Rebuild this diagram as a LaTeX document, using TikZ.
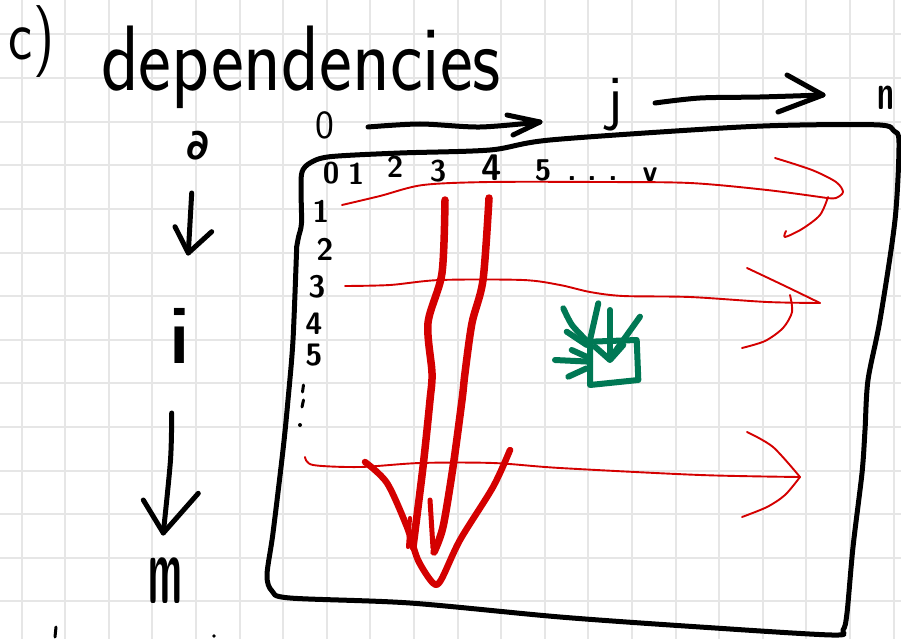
\documentclass[tikz,border=0pt]{standalone}
\usepackage{fontspec}
\newfontfamily\symfam{DejaVu Sans}
\definecolor{gridgray}{RGB}{230,230,230}
\definecolor{inkred}{RGB}{212,0,0}
\definecolor{inkgreen}{RGB}{0,120,84}
\newcommand{\hand}[1]{\sffamily\fontsize{#1}{#1}\selectfont}
\begin{document}
\begin{tikzpicture}[x=1pt,y=-1pt,
  gridline/.style={gridgray, line width=2pt},
  pen/.style={black, line width=5pt, line cap=round, line join=round},
  thinpen/.style={black, line width=3pt, line cap=round, line join=round},
  redthin/.style={inkred, line width=1.9pt, line cap=round, line join=round},
  redthick/.style={inkred, line width=7.5pt, line cap=round, line join=round},
  greenpen/.style={inkgreen, line width=6pt, line cap=round, line join=round},
  txt/.style={inner sep=0pt, outer sep=0pt, anchor=base},
  digit/.style={txt, font=\hand{30}\bfseries},
  rowdigit/.style={txt, font=\hand{31}\bfseries}]
\useasboundingbox (0,0) rectangle (901,639);
\fill[white] (0,0) rectangle (901,639);

% squared paper
\foreach \k in {0,...,20}
  \draw[gridline] ({21.5+43.6*\k},0) -- ({21.5+43.6*\k},639);
\foreach \k in {0,...,13}
  \draw[gridline] (0,{34.5+43.6*\k}) -- (901,{34.5+43.6*\k});

% heading
\node[txt, anchor=base west, font=\hand{72}] (part) at (9,60) {\scalebox{0.8}[1]{c)}};
\node[txt, anchor=base west, text depth=0pt, font=\hand{93}] (heading) at (101,91) {\scalebox{0.84}[1]{dependencies}};

% column axis: 0 -> j -> n
\node[txt, font=\hand{40}] (colzero) at (325,139) {0};
\node[txt, font=\hand{62}] (colj) at (615,119) {j};
\node[txt, font=\hand{50}\bfseries] (coln) at (886,110) {\scalebox{0.6}[1]{n}};
\draw[pen] plot[smooth] coordinates {(368,127) (420,124) (480,127) (540,122)};
\draw[pen] (507,115) -- (540,122) -- (513,135);
\draw[pen] plot[smooth] coordinates {(655,103) (700,98) (760,97) (823,95)};
\draw[pen] (787,75) -- (823,95) -- (778,112);

% row axis: 0 -> i -> m
\node[font=\symfam\bfseries\fontsize{42}{42}\selectfont, inner sep=0pt] (rowzero) at (198,146) {∂};
\node[txt, font=\hand{85}] (rowi) at (180,363) {\scalebox{1.5}[1]{i}};
\node[txt, font=\hand{78}\bfseries] (rowm) at (165,603) {\scalebox{0.5}[1.25]{m}};
\draw[pen] (191.7,193) -- (188.3,253);
\draw[pen] (175,226.7) -- (188.3,253) -- (211.7,231.7);
\draw[pen] plot[smooth] coordinates {(171.7,413) (170.5,460) (163.3,533)};
\draw[pen] (143.3,500) -- (163.3,533) -- (198.3,493.3);

% the matrix frame
\draw[pen] plot[smooth, tension=0.5] coordinates {
  (296.7,246.7) (298.5,237) (301.5,223) (301,190) (302,172) (310,163) (330,156.7)
  (400,153) (490,150) (550,140) (723,128) (800,125) (880,125) (894,131) (899,143)
  (895,220) (880,320) (868,380) (865,430) (862,473) (853,547) (847,613) (843,630)
  (832,635) (700,627) (560,617) (410,603) (290,598) (272,591) (267,575)
  (273,533) (283,450) (288,400) (293,340) (296.7,246.7)};

% column indices
\foreach \t/\x/\b [count=\n] in {0/331/183, 1/356/184, 2/395/178, 3/438/182,
  5/543/180, ./572/181, ./592/181, ./613/181, v/650/182}
  \node[digit] (col\n) at (\x,\b) {\t};
\node[txt, font=\hand{37}\bfseries] (colfour) at (492,181) {4};

% row indices
\foreach \t/\x/\b [count=\n] in {1/321/222, 2/325/260, 3/317/297, 4/314/334, 5/314/365}
  \node[rowdigit] (row\n) at (\x,\b) {\t};
\draw[thinpen] (303.5,385) -- (302.5,392);
\draw[thinpen] (303.5,400) -- (302,407);
\fill (300,425) circle (2pt);

% row-wise sweeps
\draw[redthin] plot[smooth] coordinates {(342,205) (380,196) (423,185) (490,182) (600,182) (690,183) (767,190) (827,198)};
\draw[redthin] plot[smooth] coordinates {(775,158) (812,170) (836,182) (843,192) (836,198) (827,198)};
\draw[redthin] plot[smooth] coordinates {(828,197) (820,215) (802,229) (785,237) (786,231)};

\draw[redthin] plot[smooth] coordinates {(345,286) (390,285) (440,280) (523,280) (560,285) (590,292) (623,296) (690,297) (767,302) (820,303)};
\draw[redthin] plot[smooth] coordinates {(747,268) (785,286) (820,303)};
\draw[redthin] plot[smooth] coordinates {(790,295) (792,312) (783,328) (765,341) (742,348)};

\draw[redthin] plot[smooth] coordinates {(305,457) (313,465) (360,467) (420,463) (493,463) (560,468) (700,475) (800,477)};
\draw[redthin] plot[smooth] coordinates {(747,432) (773,447) (800,477)};
\draw[redthin] plot[smooth] coordinates {(742,517) (767,507) (785,495) (800,477)};

% column-wise dependency arrow
\draw[redthick] plot[smooth] coordinates {(445,200) (442,273) (428,323) (432,373) (430,400) (423,467) (413,547)};
\draw[redthick, line width=4pt] (410,518) -- (408,547);
\draw[redthick] plot[smooth] coordinates {(489,198) (483,280) (472,323) (465,373) (462,400) (453,467) (443,527) (434,552)};
\draw[redthick, line width=5pt] (430,500) -- (433,548);
\draw[redthick, line width=6.5pt] plot[smooth, tension=0.5] coordinates {(365,462) (387,483) (407,527) (418,560) (433,583) (441,580) (460,540) (493,487) (510,450)};

% one cell and its incoming dependencies
\draw[greenpen] (590,341.7) -- (636.7,340) -- (638.3,380) -- (590,385) -- cycle;
\draw[greenpen] (610,310) -- (610,359);
\draw[greenpen] (595,346.7) -- (610,360) -- (623.3,345);
\draw[greenpen] plot[smooth] coordinates {(563.3,308.3) (572,325) (586,340)};
\draw[greenpen] (566.7,331.7) -- (586.7,345);
\draw[greenpen] (598.3,303.3) -- (590,340);
\draw[greenpen] (640,316.7) -- (615,351.7);
\draw[greenpen] (571.7,350) -- (590,358.3);
\draw[greenpen] (555,360) -- (590,361.7);
\draw[greenpen] (568.3,376.7) -- (586.7,368.3);

% stray pen marks at the bottom
\draw[thinpen] (56,627) -- (55,637);
\fill (214,636) circle (1.8pt);
\end{tikzpicture}
\end{document}
